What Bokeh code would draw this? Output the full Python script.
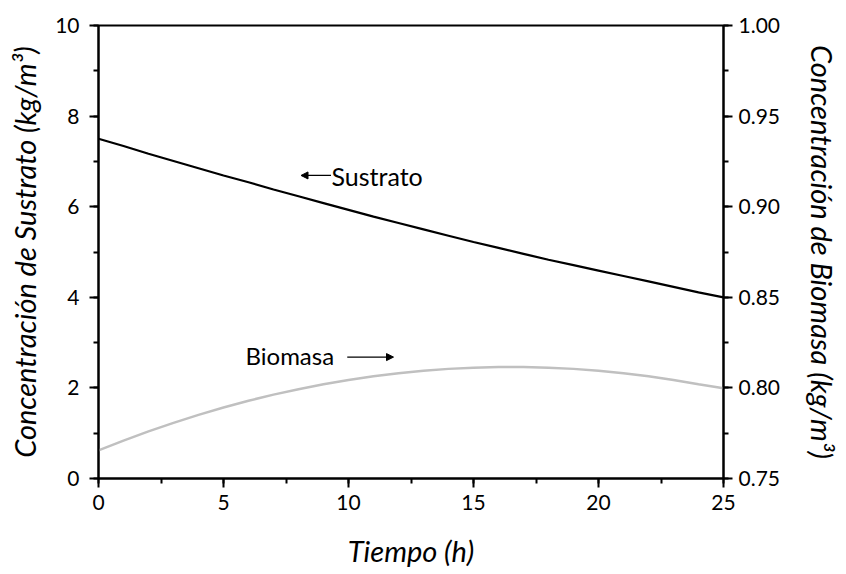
from bokeh.plotting import figure
from bokeh.models import (Range1d, LinearAxis, SingleIntervalTicker, PrintfTickFormatter,
                          Label, Arrow, NormalHead)
from bokeh.embed import file_html
from bokeh.resources import INLINE

# ---- data ----
tiempo = [0, 1, 2, 3, 4, 5, 6, 7, 8, 9, 10, 11, 12, 13, 14, 15, 16, 17, 18, 19, 20, 21, 22, 23, 24, 25]
sustrato = [7.50, 7.34, 7.17, 7.01, 6.85, 6.69, 6.54, 6.38, 6.23, 6.08, 5.93, 5.78, 5.64, 5.50,
            5.36, 5.22, 5.09, 4.96, 4.83, 4.71, 4.59, 4.47, 4.35, 4.23, 4.11, 4.00]
biomasa = [0.7655, 0.7709, 0.7760, 0.7807, 0.7851, 0.7892, 0.7929, 0.7963, 0.7993, 0.8020,
           0.8044, 0.8064, 0.8081, 0.8094, 0.8105, 0.8111, 0.8115, 0.8115, 0.8111, 0.8105,
           0.8094, 0.8081, 0.8064, 0.8044, 0.8020, 0.7998]

FONT = "Lato"

p = figure(width=846, height=572, output_backend="svg", toolbar_location=None,
           x_range=Range1d(0, 25), y_range=Range1d(0, 10),
           min_border_left=98, min_border_right=123, min_border_top=25, min_border_bottom=94)
p.extra_y_ranges = {"bio": Range1d(0.75, 1.00)}
p.grid.visible = False
p.outline_line_color = "black"
p.outline_line_width = 2
p.background_fill_color = "white"
p.border_fill_color = "white"


def style_axis(ax, interval):
    ax.ticker = SingleIntervalTicker(interval=interval, num_minor_ticks=2)
    ax.axis_line_color = "black"
    ax.axis_line_width = 2
    ax.major_tick_line_color = "black"
    ax.major_tick_line_width = 2
    ax.minor_tick_line_color = "black"
    ax.minor_tick_line_width = 2
    ax.major_tick_in = 0
    ax.major_tick_out = 9
    ax.minor_tick_in = 0
    ax.minor_tick_out = 5
    ax.major_label_text_font = FONT
    ax.major_label_text_font_size = "21px"
    ax.major_label_text_color = "black"
    ax.axis_label_text_font = FONT
    ax.axis_label_text_font_size = "29px"
    ax.axis_label_text_font_style = "italic"
    ax.axis_label_text_color = "black"


xa = p.xaxis[0]
style_axis(xa, 5)
xa.axis_label = "Tiempo (h)"
xa.major_label_standoff = 7
xa.axis_label_standoff = 20

ya = p.yaxis[0]
style_axis(ya, 2)
ya.axis_label = "Concentración de Sustrato (kg/m³)"
ya.major_label_standoff = 10
ya.axis_label_standoff = 10

ra = LinearAxis(y_range_name="bio")
style_axis(ra, 0.05)
ra.formatter = PrintfTickFormatter(format="%.2f")
ra.axis_label = "Concentración de Biomasa (kg/m³)"
ra.major_label_standoff = 6
ra.axis_label_standoff = 22
p.add_layout(ra, "right")

p.line(tiempo, sustrato, line_color="black", line_width=2.2)
p.line(tiempo, biomasa, line_color="#c0c0c0", line_width=2.5, y_range_name="bio")

# annotations
p.add_layout(Label(x=9.32, y=6.67, text="Sustrato", text_font=FONT, text_font_size="25px",
                   text_baseline="middle", text_align="left", text_color="black"))
p.add_layout(Arrow(x_start=9.3, y_start=6.69, x_end=8.1, y_end=6.69, line_width=1.2,
                   line_color="black",
                   end=NormalHead(size=7, fill_color="black", line_color="black")))
p.add_layout(Label(x=5.88, y=2.72, text="Biomasa", text_font=FONT, text_font_size="24px",
                   text_baseline="middle", text_align="left", text_color="black"))
p.add_layout(Arrow(x_start=9.95, y_start=2.68, x_end=11.8, y_end=2.68, line_width=1.2,
                   line_color="black",
                   end=NormalHead(size=7, fill_color="black", line_color="black")))

open("out.html", "w").write(file_html(p, INLINE))
